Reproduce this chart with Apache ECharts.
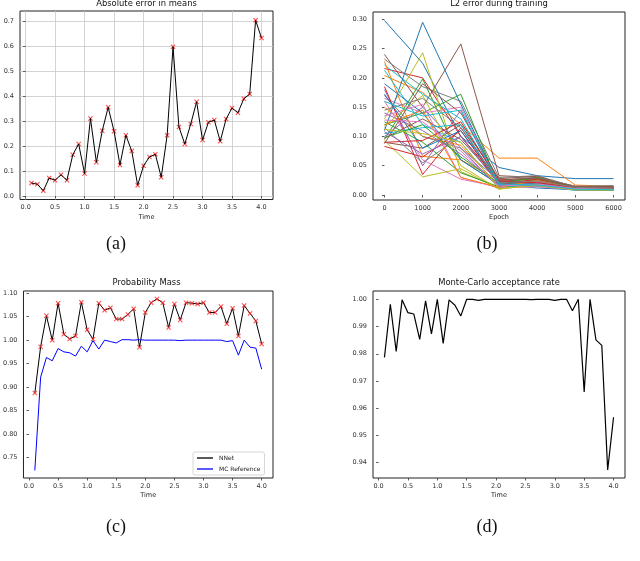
<!DOCTYPE html>
<html>
<head>
<meta charset="utf-8">
<script src="https://cdn.jsdelivr.net/npm/echarts@6/dist/echarts.min.js"></script>
<style>html,body{margin:0;padding:0;background:#fff}#c{width:640px;height:561px}</style>
</head>
<body>
<div id="c"></div>
<script>
// ---------- data ----------
const times = [0.1,0.2,0.3,0.4,0.5,0.6,0.7,0.8,0.9,1.0,1.1,1.2,1.3,1.4,1.5,1.6,1.7,1.8,1.9,2.0,
               2.1,2.2,2.3,2.4,2.5,2.6,2.7,2.8,2.9,3.0,3.1,3.2,3.3,3.4,3.5,3.6,3.7,3.8,3.9,4.0];
const timeTicks = [0,0.5,1.0,1.5,2.0,2.5,3.0,3.5,4.0];

// (a) Absolute error in means
const absError = [0.052,0.047,0.021,0.072,0.063,0.085,0.063,0.165,0.208,0.090,
                  0.310,0.135,0.261,0.355,0.259,0.124,0.243,0.180,0.043,0.121,
                  0.156,0.167,0.075,0.243,0.597,0.276,0.208,0.288,0.377,0.224,
                  0.295,0.304,0.219,0.308,0.352,0.333,0.389,0.408,0.703,0.632];
const absErrTicks = [0,0.1,0.2,0.3,0.4,0.5,0.6,0.7];

// (b) L2 error during training
const epochs = [0,1000,2000,3000,4000,5000,6000];
const l2Ticks = [0,0.05,0.10,0.15,0.20,0.25,0.30];
const l2Runs = [
  [0.298,0.225,0.100,0.047,0.033,0.028,0.028],
  [0.204,0.175,0.120,0.063,0.063,0.017,0.015],
  [0.095,0.198,0.060,0.018,0.025,0.012,0.010],
  [0.216,0.200,0.100,0.025,0.026,0.013,0.012],
  [0.180,0.050,0.145,0.015,0.020,0.010,0.010],
  [0.240,0.150,0.258,0.033,0.030,0.015,0.014],
  [0.165,0.140,0.150,0.020,0.018,0.012,0.011],
  [0.232,0.185,0.160,0.030,0.033,0.014,0.013],
  [0.130,0.243,0.040,0.012,0.022,0.010,0.009],
  [0.222,0.172,0.130,0.020,0.015,0.008,0.008],
  [0.110,0.295,0.155,0.020,0.018,0.010,0.010],
  [0.228,0.066,0.060,0.025,0.028,0.012,0.012],
  [0.120,0.140,0.172,0.016,0.026,0.011,0.010],
  [0.185,0.035,0.115,0.022,0.020,0.011,0.011],
  [0.100,0.150,0.080,0.012,0.015,0.009,0.009],
  [0.090,0.080,0.120,0.028,0.032,0.013,0.012],
  [0.160,0.060,0.027,0.014,0.016,0.010,0.009],
  [0.115,0.055,0.100,0.020,0.025,0.012,0.011],
  [0.093,0.031,0.045,0.010,0.024,0.010,0.010],
  [0.213,0.120,0.090,0.012,0.020,0.009,0.008],
  [0.190,0.140,0.060,0.018,0.012,0.009,0.008],
  [0.150,0.100,0.085,0.015,0.024,0.011,0.012],
  [0.125,0.090,0.038,0.014,0.020,0.010,0.009],
  [0.083,0.065,0.110,0.018,0.027,0.012,0.013],
  [0.140,0.110,0.070,0.016,0.022,0.011,0.010],
  [0.097,0.130,0.095,0.023,0.028,0.014,0.015],
  [0.135,0.155,0.030,0.012,0.014,0.009,0.009],
  [0.170,0.100,0.080,0.025,0.030,0.015,0.016],
  [0.118,0.170,0.050,0.010,0.018,0.009,0.008],
  [0.105,0.115,0.120,0.017,0.016,0.010,0.009],
  [0.172,0.080,0.110,0.022,0.020,0.010,0.010],
  [0.120,0.145,0.030,0.013,0.025,0.012,0.011],
  [0.098,0.120,0.065,0.020,0.030,0.012,0.011],
  [0.090,0.093,0.125,0.024,0.021,0.013,0.012],
  [0.108,0.070,0.100,0.018,0.017,0.010,0.009],
  [0.088,0.190,0.140,0.026,0.029,0.014,0.014],
  [0.128,0.125,0.075,0.015,0.019,0.011,0.010],
  [0.145,0.165,0.115,0.021,0.024,0.013,0.012],
  [0.112,0.105,0.090,0.011,0.016,0.009,0.009],
  [0.160,0.135,0.145,0.019,0.017,0.010,0.009]
];
const tab10 = ['#1f77b4','#ff7f0e','#2ca02c','#d62728','#9467bd','#8c564b','#e377c2','#7f7f7f','#bcbd22','#17becf'];

// (c) Probability Mass
const nnetMass = [0.887,0.986,1.052,1.000,1.079,1.0125,1.0026,1.009,1.081,1.022,
                  1.002,1.079,1.064,1.069,1.045,1.045,1.055,1.067,0.985,1.059,
                  1.080,1.088,1.080,1.027,1.077,1.043,1.080,1.079,1.077,1.080,
                  1.059,1.059,1.072,1.035,1.068,1.009,1.074,1.057,1.041,0.992];
const mcMass = [0.722,0.921,0.963,0.956,0.982,0.975,0.973,0.966,0.987,0.975,
                0.999,0.981,1.000,0.997,0.994,1.001,1.001,1.000,1.001,1.000,
                1.000,1.000,1.000,1.000,1.000,0.999,1.000,1.000,1.000,1.000,
                1.000,1.000,1.000,0.997,0.999,0.968,1.000,0.985,0.983,0.938];
const massTicks = [0.75,0.80,0.85,0.90,0.95,1.00,1.05,1.10];

// (d) Monte-Carlo acceptance rate
const acceptRate = [0.9787,0.9982,0.9809,0.9998,0.9951,0.9946,0.9853,0.9994,0.9873,1.0000,
                    0.9838,0.9998,0.9978,0.9939,1.0000,1.0000,0.9996,1.0000,1.0000,1.0000,
                    1.0000,1.0000,1.0000,1.0000,1.0000,0.9999,1.0000,1.0000,1.0000,0.9996,
                    1.0000,1.0000,0.9958,1.0000,0.9660,1.0000,0.9851,0.9831,0.9373,0.9567];
const acceptTicks = [0.94,0.95,0.96,0.97,0.98,0.99,1.00];

// ---------- chart ----------
const FONT = 'DejaVu Sans';
const pair = (xs, ys) => xs.map((x, i) => [x, ys[i]]);
const xMark = 'path://M0,1.5 L1.5,0 L5,3.5 L8.5,0 L10,1.5 L6.5,5 L10,8.5 L8.5,10 L5,6.5 L1.5,10 L0,8.5 L3.5,5 Z';

function xAxisCfg(gi, min, max, ticks, fmt, name, grid) {
  return {
    type: 'value', gridIndex: gi, min: min, max: max,
    name: name, nameLocation: 'middle', nameGap: 14,
    nameTextStyle: {fontFamily: FONT, fontSize: 6.5, color: '#222'},
    axisLine: {show: false},
    axisTick: {show: true, inside: false, length: 2.5, customValues: ticks, lineStyle: {color: '#333', width: 0.8}},
    axisLabel: {show: true, customValues: ticks, margin: 4.5, fontFamily: FONT, fontSize: 6.5, color: '#333', formatter: fmt},
    splitLine: {show: !!grid, lineStyle: {color: '#c8c8c8', width: 0.8}}
  };
}
function yAxisCfg(gi, min, max, ticks, fmt, grid) {
  return {
    type: 'value', gridIndex: gi, min: min, max: max,
    axisLine: {show: false},
    axisTick: {show: true, inside: false, length: 2.5, customValues: ticks, lineStyle: {color: '#333', width: 0.8}},
    axisLabel: {show: true, customValues: ticks, margin: 6, fontFamily: FONT, fontSize: 6.5, color: '#333', formatter: fmt},
    splitLine: {show: !!grid, lineStyle: {color: '#c8c8c8', width: 0.8}}
  };
}
const f1 = v => Number(v).toFixed(1);
const f2 = v => Number(v).toFixed(2);
const f0 = v => String(Math.round(v));

const gridBase = {show: true, borderColor: '#222', borderWidth: 1, backgroundColor: 'rgba(0,0,0,0)', containLabel: false};

const series = [];
// (a)
series.push({type: 'line', xAxisIndex: 0, yAxisIndex: 0, data: pair(times, absError), showSymbol: false, symbol: 'none',
  lineStyle: {color: '#000', width: 1}, color: '#000', silent: true});
series.push({type: 'scatter', xAxisIndex: 0, yAxisIndex: 0, data: pair(times, absError), symbol: xMark, symbolSize: 5,
  itemStyle: {color: '#ff2020'}, silent: true});
// (b)
l2Runs.forEach((run, i) => {
  series.push({type: 'line', xAxisIndex: 1, yAxisIndex: 1, data: pair(epochs, run), showSymbol: false, symbol: 'none',
    lineStyle: {color: tab10[i % 10], width: 1}, color: tab10[i % 10], silent: true});
});
// (c)
series.push({name: 'NNet', type: 'line', xAxisIndex: 2, yAxisIndex: 2, data: pair(times, nnetMass), showSymbol: false, symbol: 'none',
  lineStyle: {color: '#000', width: 1}, color: '#000', silent: true});
series.push({type: 'scatter', xAxisIndex: 2, yAxisIndex: 2, data: pair(times, nnetMass), symbol: xMark, symbolSize: 5,
  itemStyle: {color: '#ff2020'}, silent: true, z: 3});
series.push({name: 'MC Reference', type: 'line', xAxisIndex: 2, yAxisIndex: 2, data: pair(times, mcMass), showSymbol: false, symbol: 'none',
  lineStyle: {color: '#0000ff', width: 1}, color: '#0000ff', silent: true});
// (d)
series.push({type: 'line', xAxisIndex: 3, yAxisIndex: 3, data: pair(times, acceptRate), showSymbol: false, symbol: 'none',
  lineStyle: {color: '#000', width: 1.2}, color: '#000', silent: true});

const titleStyle = {fontFamily: FONT, fontSize: 8.4, fontWeight: 'normal', color: '#111'};
const capStyle = {fontFamily: 'Liberation Serif', fontSize: 18, fill: '#111', textAlign: 'center', textVerticalAlign: 'middle'};

const option = {
  animation: false,
  backgroundColor: '#ffffff',
  title: [
    {text: 'Absolute error in means', left: 146.5, top: 0, textAlign: 'center', padding: 0, textStyle: titleStyle},
    {text: 'L2 error during training', left: 499, top: 0, textAlign: 'center', padding: 0, textStyle: titleStyle},
    {text: 'Probability Mass', left: 146.5, top: 279, textAlign: 'center', padding: 0, textStyle: titleStyle},
    {text: 'Monte-Carlo acceptance rate', left: 499, top: 279, textAlign: 'center', padding: 0, textStyle: titleStyle}
  ],
  grid: [
    Object.assign({left: 20, top: 11, width: 253, height: 188.5}, gridBase),
    Object.assign({left: 373, top: 12, width: 252, height: 188}, gridBase),
    Object.assign({left: 20, top: 291, width: 253, height: 187}, gridBase),
    Object.assign({left: 373, top: 291, width: 252, height: 187}, gridBase)
  ],
  xAxis: [
    xAxisCfg(0, -0.095, 4.195, timeTicks, f1, 'Time', true),
    xAxisCfg(1, -300, 6300, epochs, f0, 'Epoch', false),
    xAxisCfg(2, -0.095, 4.195, timeTicks, f1, 'Time', false),
    xAxisCfg(3, -0.095, 4.195, timeTicks, f1, 'Time', false)
  ],
  yAxis: [
    yAxisCfg(0, -0.014, 0.74, absErrTicks, f1, true),
    yAxisCfg(1, -0.0085, 0.3125, l2Ticks, f2, false),
    yAxisCfg(2, 0.7058, 1.1049, massTicks, f2, false),
    yAxisCfg(3, 0.93438, 1.00305, acceptTicks, f2, false)
  ],
  legend: {
    data: ['NNet', 'MC Reference'],
    orient: 'vertical', left: 193, top: 452,
    icon: 'rect', itemWidth: 16, itemHeight: 1.3, itemGap: 5,
    padding: [3, 4, 3, 4],
    borderColor: '#cccccc', borderWidth: 0.8, borderRadius: 2,
    backgroundColor: 'rgba(255,255,255,0.9)',
    textStyle: {fontFamily: FONT, fontSize: 6, color: '#222', padding: [0, 0, 0, 1]},
    selectedMode: false
  },
  graphic: [
    {type: 'text', x: 116, y: 244, style: Object.assign({text: '(a)'}, capStyle), silent: true},
    {type: 'text', x: 487, y: 244, style: Object.assign({text: '(b)'}, capStyle), silent: true},
    {type: 'text', x: 116, y: 527, style: Object.assign({text: '(c)'}, capStyle), silent: true},
    {type: 'text', x: 487, y: 527, style: Object.assign({text: '(d)'}, capStyle), silent: true}
  ],
  series: series
};

const chart = echarts.init(document.getElementById('c'), null, {renderer: 'canvas'});
chart.setOption(option);
</script>
</body>
</html>
